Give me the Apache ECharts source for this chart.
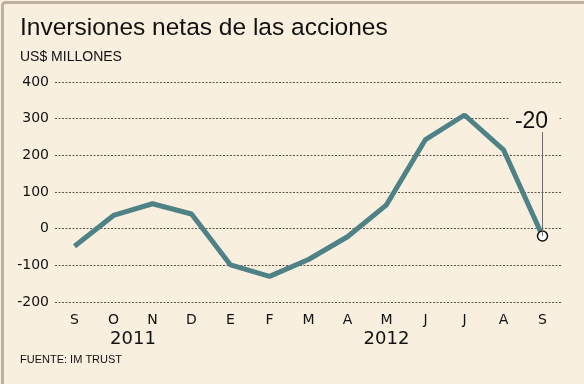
<!DOCTYPE html>
<html><head><meta charset="utf-8">
<script src="https://cdn.jsdelivr.net/npm/echarts@6/dist/echarts.min.js"></script>
<style>html,body{margin:0;padding:0;background:#f9efde}#c{width:584px;height:384px}</style>
</head><body><div id="c"></div>
<script>
const months = ['S','O','N','D','E','F','M','A','M','J','J','A','S'];
const values = [-48, 36, 68, 40, -99, -130, -84, -22, 65, 243, 310, 215, -20];
const yTicks = [-200, -100, 0, 100, 200, 300, 400];
const years = [{text:'2011', at:1.5}, {text:'2012', at:8}];
const titleText = 'Inversiones netas de las acciones';
const unitText = 'US$ MILLONES';
const sourceText = 'FUENTE: IM TRUST';
const lastLabel = '-20';
const leaderTop = 264;

const bg = '#f9efde';
const chart = echarts.init(document.getElementById('c'), null, {renderer:'canvas'});
const last = values.length - 1;
const seriesData = values.map((v,i)=> i===last ? {value:v, symbol:'circle', symbolSize:10, itemStyle:{color:'#fff', borderColor:'#111', borderWidth:1.5}} : {value:v, symbol:'none'});

const option = {
  backgroundColor: bg,
  animation:false,
  grid:{left:55, right:22, top:82, bottom:82},
  xAxis:{type:'category', data:months, boundaryGap:true,
    axisLine:{show:false}, axisTick:{show:false},
    axisLabel:{color:'#111', fontFamily:'DejaVu Sans', fontSize:14, margin:11, interval:0}},
  yAxis:{type:'value', min:yTicks[0], max:yTicks[yTicks.length-1], interval:100,
    axisLine:{show:false}, axisTick:{show:false},
    axisLabel:{color:'#111', fontFamily:'DejaVu Sans', fontSize:14, margin:6},
    splitLine:{lineStyle:{color:'#5f554a', type:[2,1.5], width:1}}},
  series:[{type:'line', data:seriesData, lineStyle:{color:'#4e8286', width:5}, z:3,
    markLine:{silent:true, symbol:'none', animation:false,
      lineStyle:{color:'#6e6a66', width:1, type:'solid'},
      label:{show:false},
      data:[[{coord:[last, values[last]]},{coord:[last, leaderTop]}]]},
    markPoint:{silent:true, symbol:'rect', symbolSize:[50,20], symbolOffset:[-8,-10],
      itemStyle:{color:bg},
      label:{show:true, formatter:lastLabel, color:'#111', fontFamily:'Liberation Sans', fontSize:23, offset:[-3,0]},
      data:[{coord:[last, leaderTop]}]}}]
};
chart.setOption(option);

const g = [
  {type:'rect', left:0, top:0, shape:{width:584, height:384, r:3}, style:{fill:null, stroke:'#bfb1a2', lineWidth:3}, z:100},
  {type:'text', left:20, top:16, style:{text:titleText, font:'24.5px "Liberation Sans"', fill:'#111'}},
  {type:'text', left:20, top:50, style:{text:unitText, font:'14px "Liberation Sans"', fill:'#111'}},
  {type:'text', left:20, top:354, style:{text:sourceText, font:'11px "Liberation Sans"', fill:'#111'}}
];
years.forEach(y=>{
  const a = chart.convertToPixel({xAxisIndex:0}, Math.floor(y.at));
  const b = chart.convertToPixel({xAxisIndex:0}, Math.ceil(y.at));
  const x = a + (b-a)*(y.at-Math.floor(y.at));
  g.push({type:'text', x:x, y:339, style:{text:y.text, font:'18px "DejaVu Sans"', fill:'#111', textAlign:'center', textVerticalAlign:'middle'}});
});
chart.setOption({graphic:g});
</script></body></html>
